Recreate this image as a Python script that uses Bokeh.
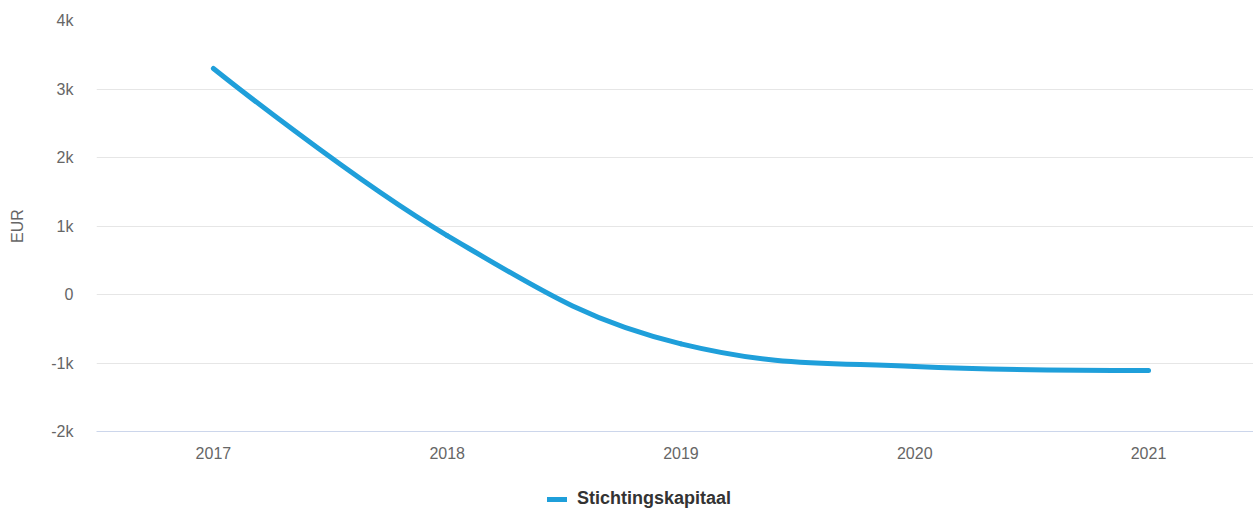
from bokeh.plotting import figure
from bokeh.models import Legend, LegendItem, FixedTicker, Range1d
from bokeh.layouts import column
from bokeh.embed import file_html
from bokeh.resources import INLINE

# ---- data ----
years = ["2017", "2018", "2019", "2020", "2021"]
stichtingskapitaal = [3300, 860, -720, -1050, -1110]
y_ticks = [-2000, -1000, 0, 1000, 2000, 3000, 4000]
y_tick_labels = ["-2k", "-1k", "0", "1k", "2k", "3k", "4k"]
series_name = "Stichtingskapitaal"
y_title = "EUR"

FONT = "Liberation Sans"
COLOR = "#1f9fda"

p = figure(width=1253, height=470, output_backend="svg", toolbar_location=None,
           x_range=Range1d(-0.5, 4.449), y_range=Range1d(-2000, 4000),
           min_border_left=96, min_border_right=0, min_border_top=20, min_border_bottom=39)
p.outline_line_color = None

# Highcharts-style spline control points from the data
xs = list(range(len(years)))
ys = stichtingskapitaal
n = len(xs)
sm = 1.5
lcx, lcy, rcx, rcy = list(xs), list(ys), list(xs), list(ys)
for i in range(1, n - 1):
    px, py = xs[i], ys[i]
    lx, ly = xs[i - 1], ys[i - 1]
    nx, ny = xs[i + 1], ys[i + 1]
    a = (sm * px + lx) / (sm + 1)
    b = (sm * py + ly) / (sm + 1)
    c = (sm * px + nx) / (sm + 1)
    d = (sm * py + ny) / (sm + 1)
    if c != a:
        corr = ((d - b) * (c - px)) / (c - a) + py - d
        b += corr
        d += corr
    if b > ly and b > py:
        b = max(ly, py)
        d = 2 * py - b
    elif b < ly and b < py:
        b = min(ly, py)
        d = 2 * py - b
    if d > ny and d > py:
        d = max(ny, py)
        b = 2 * py - d
    elif d < ny and d < py:
        d = min(ny, py)
        b = 2 * py - d
    lcx[i], lcy[i], rcx[i], rcy[i] = a, b, c, d

p.bezier(x0=xs[:-1], y0=ys[:-1], x1=xs[1:], y1=ys[1:],
         cx0=rcx[:-1], cy0=rcy[:-1], cx1=lcx[1:], cy1=lcy[1:],
         line_color=COLOR, line_width=5, line_cap="round", line_join="round")

# axes
p.xaxis.ticker = FixedTicker(ticks=xs)
p.xaxis.major_label_overrides = {i: y for i, y in enumerate(years)}
p.xaxis.axis_line_color = "#ccd6eb"
p.xaxis.major_tick_line_color = None
p.xaxis.minor_tick_line_color = None
p.xaxis.major_tick_in = 0
p.xaxis.major_tick_out = 0
p.xaxis.major_label_standoff = 15
p.xaxis.major_label_text_font = FONT
p.xaxis.major_label_text_font_size = "16px"
p.xaxis.major_label_text_color = "#666666"

p.yaxis.ticker = FixedTicker(ticks=y_ticks)
p.yaxis.major_label_overrides = dict(zip(y_ticks, y_tick_labels))
p.yaxis.axis_line_color = None
p.yaxis.major_tick_line_color = None
p.yaxis.minor_tick_line_color = None
p.yaxis.major_tick_in = 0
p.yaxis.major_tick_out = 0
p.yaxis.major_label_standoff = 23
p.yaxis.major_label_text_font = FONT
p.yaxis.major_label_text_font_size = "16px"
p.yaxis.major_label_text_color = "#666666"
p.yaxis.axis_label = y_title
p.yaxis.axis_label_text_font = FONT
p.yaxis.axis_label_text_font_size = "16px"
p.yaxis.axis_label_text_font_style = "normal"
p.yaxis.axis_label_text_color = "#666666"
p.yaxis.axis_label_standoff = 22

p.xgrid.grid_line_color = None
p.ygrid.grid_line_color = "#e6e6e6"
p.ygrid.grid_line_width = 1

# legend strip below the chart (key renderer carries only the line style)
p2 = figure(width=1253, height=41, output_backend="svg", toolbar_location=None,
            x_axis_type=None, y_axis_type=None,
            x_range=Range1d(0, 1), y_range=Range1d(0, 1),
            min_border_left=96, min_border_right=0, min_border_top=0, min_border_bottom=0)
p2.outline_line_color = None
p2.xgrid.grid_line_color = None
p2.ygrid.grid_line_color = None
key = p2.line(x=[float("nan")], y=[float("nan")], line_color=COLOR, line_width=5, line_cap="round")
legend = Legend(items=[LegendItem(label=series_name, renderers=[key])],
                location=(451, 2), orientation="horizontal",
                border_line_color=None, background_fill_alpha=0,
                padding=0, margin=0, glyph_width=20, glyph_height=18,
                label_height=18, label_standoff=10,
                label_text_font=FONT, label_text_font_size="18px",
                label_text_font_style="bold", label_text_color="#333333")
p2.add_layout(legend, "center")

layout = column(p, p2, spacing=0)
open("out.html", "w").write(file_html(layout, INLINE))
